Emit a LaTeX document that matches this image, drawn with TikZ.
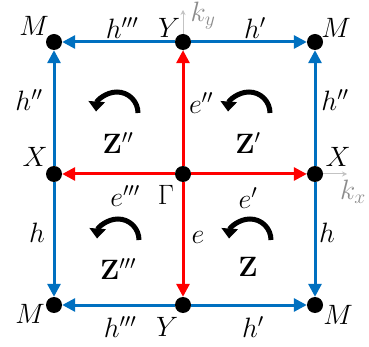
\documentclass[tikz,border=0pt]{standalone}
\usepackage{fix-cm}
\usetikzlibrary{arrows.meta,backgrounds}
\definecolor{eblue}{RGB}{0,112,192}
\definecolor{ered}{RGB}{255,0,0}
\definecolor{axgray}{RGB}{195,195,195}
\definecolor{lblgray}{RGB}{140,140,140}
\begin{document}
\begin{tikzpicture}[x=1pt,y=-1pt,
  dot/.style={circle,fill=black,inner sep=0pt,minimum size=16pt},
  hedge/.style={eblue,line width=3pt,-{Triangle[length=13pt,width=13pt]}},
  eedge/.style={ered,line width=3pt,-{Triangle[length=13pt,width=13pt]}},
  lbl/.style={font=\fontsize{28}{32}\selectfont,inner sep=0pt},
  glbl/.style={lbl,text=lblgray},
  rot/.style={line width=5pt,-{Triangle[length=10pt,width=16pt]}},
  axis/.style={axgray,line width=1pt,-{Stealth[length=5pt,width=5pt]}}]
\useasboundingbox (0,0) rectangle (369,347);

\node[dot] (G) at (183,174) {};
\node[dot] (Yt) at (183,42) {};
\node[dot] (Yb) at (183,305) {};
\node[dot] (Xl) at (54,174) {};
\node[dot] (Xr) at (315,174) {};
\node[dot] (Mtl) at (54,42) {};
\node[dot] (Mtr) at (315,42) {};
\node[dot] (Mbl) at (54,305) {};
\node[dot] (Mbr) at (315,305) {};
\coordinate (kyend) at (183,10);
\coordinate (kxend) at (347,174);

\begin{scope}[on background layer]
\draw[axis] (G.center) -- (kyend);
\draw[axis] (G.center) -- (kxend);
\end{scope}

% red edges
\draw[eedge] (G) -- (Yt);
\draw[eedge] (G) -- (Yb);
\draw[eedge] (G) -- (Xl);
\draw[eedge] (G) -- (Xr);
% blue edges
\draw[hedge] (Yt) -- (Mtl);
\draw[hedge] (Yt) -- (Mtr);
\draw[hedge] (Yb) -- (Mbl);
\draw[hedge] (Yb) -- (Mbr);
\draw[hedge] (Xl) -- (Mtl);
\draw[hedge] (Xr) -- (Mtr);
\draw[hedge] (Xl) -- (Mbl);
\draw[hedge] (Xr) -- (Mbr);

% rotation arrows
\draw[rot] (138,113) arc[start angle=0,end angle=-176,radius=21];
\draw[rot] (270,113) arc[start angle=0,end angle=-176,radius=21];
\draw[rot] (139,240) arc[start angle=0,end angle=-176,radius=21];
\draw[rot] (271,240) arc[start angle=0,end angle=-176,radius=21];

% Z labels
\node[lbl] (z2) at (118,143) {$\mathbf{Z}''$};
\node[lbl] (z1) at (248,143) {$\mathbf{Z}'$};
\node[lbl] (z3) at (118,269) {$\mathbf{Z}'''$};
\node[lbl] (z0) at (248,267) {$\mathbf{Z}$};

% point labels
\node[lbl] (lMtl) at (34,26) {$M$};
\node[lbl] (lMtr) at (336,28) {$M$};
\node[lbl] (lMbl) at (30,314) {$M$};
\node[lbl] (lMbr) at (338,315) {$M$};
\node[lbl] (lYt) at (169,28) {$Y$};
\node[lbl] (lYb) at (167,327) {$Y$};
\node[lbl] (lXl) at (35,157) {$X$};
\node[lbl] (lXr) at (338,157) {$X$};
\node[lbl] (lG) at (166,195) {$\Gamma$};
\node[glbl] (lky) at (203,16) {$k_y$};
\node[glbl] (lkx) at (353,192) {$k_x$};

% edge labels
\node[lbl] (a1) at (122,28) {$h'''$};
\node[lbl] (a2) at (255,28) {$h'$};
\node[lbl] (a3) at (29,100) {$h''$};
\node[lbl] (a4) at (335,100) {$h''$};
\node[lbl] (a5) at (201,103) {$e''$};
\node[lbl] (a6) at (125,196) {$e'''$};
\node[lbl] (a7) at (248,198) {$e'$};
\node[lbl] (a8) at (37,233) {$h$};
\node[lbl] (a9) at (198,237) {$e$};
\node[lbl] (a10) at (327,233) {$h$};
\node[lbl] (a11) at (120,327) {$h'''$};
\node[lbl] (a12) at (253,327) {$h'$};
\end{tikzpicture}
\end{document}
